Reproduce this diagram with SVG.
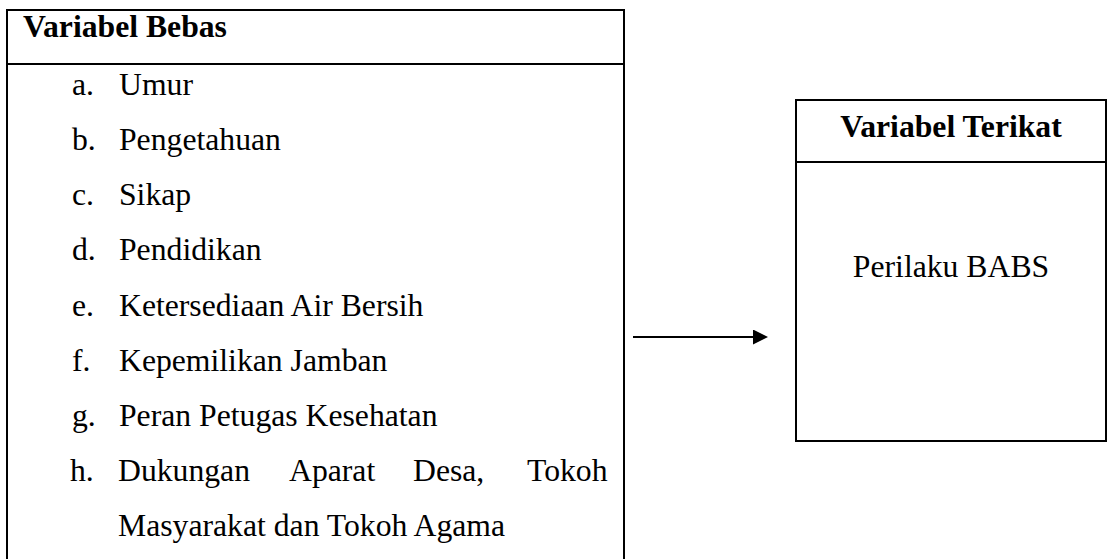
<svg xmlns="http://www.w3.org/2000/svg" width="1108" height="559" viewBox="0 0 1108 559">
  <style>
    .box { fill: #ffffff; stroke: #000000; stroke-width: 2; }
    .sep { stroke: #000000; stroke-width: 2; }
    .t { font-family: "Liberation Serif", "Times New Roman", serif; font-size: 31.7px; fill: #000000; }
    .b { font-weight: bold; }
    .conn { stroke: #000000; stroke-width: 2; fill: none; }
  </style>
  <defs>
    <marker id="arrow" markerUnits="userSpaceOnUse" markerWidth="16" markerHeight="16" refX="3" refY="7.5" orient="auto">
      <path d="M0,0 L15,7.5 L0,15 Z" fill="#000000"/>
    </marker>
  </defs>
  <rect width="1108" height="559" fill="#ffffff"/>

  <g id="variabel-bebas">
    <rect class="box" x="7" y="10" width="617" height="560"/>
    <line class="sep" x1="7" y1="64" x2="624" y2="64"/>
    <text class="t b" x="23" y="37">Variabel Bebas</text>
    <text class="t" x="72" y="95">a.</text>
    <text class="t" x="119" y="95">Umur</text>
    <text class="t" x="72" y="150">b.</text>
    <text class="t" x="119" y="150">Pengetahuan</text>
    <text class="t" x="72" y="205">c.</text>
    <text class="t" x="119" y="205">Sikap</text>
    <text class="t" x="72" y="260">d.</text>
    <text class="t" x="119" y="260">Pendidikan</text>
    <text class="t" x="72" y="316">e.</text>
    <text class="t" x="119" y="316">Ketersediaan Air Bersih</text>
    <text class="t" x="72" y="371">f.</text>
    <text class="t" x="119" y="371">Kepemilikan Jamban</text>
    <text class="t" x="72" y="426">g.</text>
    <text class="t" x="119" y="426">Peran Petugas Kesehatan</text>
    <text class="t" x="70" y="481">h.</text>
    <text class="t" y="481"><tspan x="118">Dukungan</tspan><tspan x="289">Aparat</tspan><tspan x="413">Desa,</tspan><tspan x="527">Tokoh</tspan></text>
    <text class="t" x="118" y="536">Masyarakat dan Tokoh Agama</text>
  </g>

  <g id="variabel-terikat">
    <rect class="box" x="796" y="100" width="310" height="341"/>
    <line class="sep" x1="796" y1="162" x2="1106" y2="162"/>
    <text class="t b" x="951" y="137" text-anchor="middle">Variabel Terikat</text>
    <text class="t" x="951" y="277" text-anchor="middle">Perilaku BABS</text>
  </g>

  <g id="connectors">
    <line class="conn" x1="633" y1="337" x2="756" y2="337" marker-end="url(#arrow)"/>
  </g>
</svg>
